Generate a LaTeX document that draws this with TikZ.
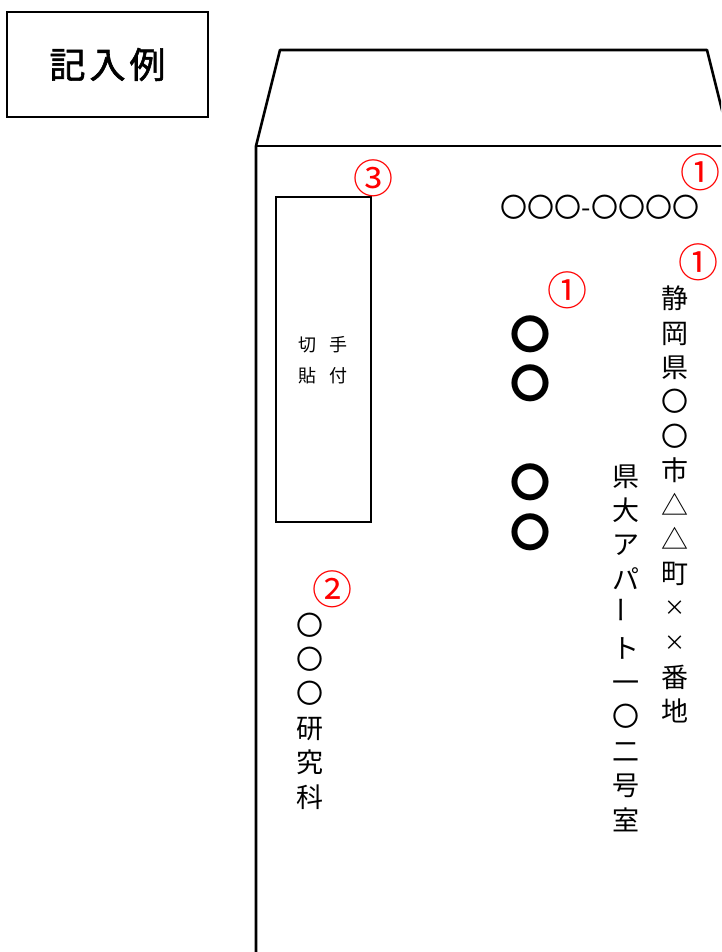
\documentclass[tikz,border=0pt]{standalone}
\usepackage{fontspec}
\newfontfamily\jpfont{Noto Sans CJK JP}
\newfontfamily\titlefont[FakeBold=1.6]{Noto Sans CJK JP}
\usetikzlibrary{positioning}

\newcommand{\smallx}{\raisebox{2.4pt}{\scalebox{0.78}{×}}}

\begin{document}
\begin{tikzpicture}[
    x=1pt, y=-1pt,
    envelope/.style={draw, line width=2.6pt, line join=round},
    box/.style={draw, line width=1.4pt},
    num/.style={text=red, inner sep=0pt, font=\jpfont\fontsize{40}{40}\selectfont},
    column/.style={align=center, inner sep=0pt, font=\jpfont\fontsize{27}{34.4}\selectfont}
]

\clip (0,0) rectangle (721,952);

% title box
\node[box, minimum width=201pt, minimum height=105pt, font=\titlefont\fontsize{36}{36}\selectfont] (title) at (107.5,64.5) {記\hspace{4pt}入\hspace{4pt}例};

% envelope and flap
\coordinate (flapL) at (280,50);
\coordinate (flapR) at (707,50);
\draw[envelope] (256,960) -- (256,146) -- (flapL) -- (flapR) -- (731,146);
\draw[envelope] (256,146) -- (731,146);

% stamp place
\node[box, minimum width=95pt, minimum height=325pt] (stamp) at (323.5,359.5) {};
\node[inner sep=0pt, align=center, font=\jpfont\fontsize{18}{31}\selectfont] (stamptext) at (323,360.5) {切\hspace{14pt}手\\貼\hspace{14pt}付};
\node[num] (n3) at (373,178) {③};

% postcode
\node[inner sep=0pt, font=\jpfont\fontsize{27}{27}\selectfont] (postcode) at (600,207) {〇〇〇-〇〇〇〇};
\node[num] (n1a) at (700,172) {①};

% address
\node[num] (n1b) at (698,262) {①};
\node[column] (addr) at (675,504.5) {静\\岡\\県\\〇\\〇\\市\\△\\△\\町\\\smallx\\\smallx\\番\\地};
\node[column] (room) at (626,648) {県\\大\\ア\\パ\\\rotatebox{90}{ー}\\ト\\一\\〇\\二\\号\\室};

% name
\node[num] (n1c) at (567,290) {①};
\node[align=center, inner sep=0pt, font=\jpfont\bfseries\fontsize{40}{49.5}\selectfont] (name) at (530,433) {〇\\〇\\\strut\\〇\\〇};

% sender
\node[num] (n2) at (332,589) {②};
\node[column] (dept) at (310,711) {〇\\〇\\〇\\研\\究\\科};

\end{tikzpicture}
\end{document}
